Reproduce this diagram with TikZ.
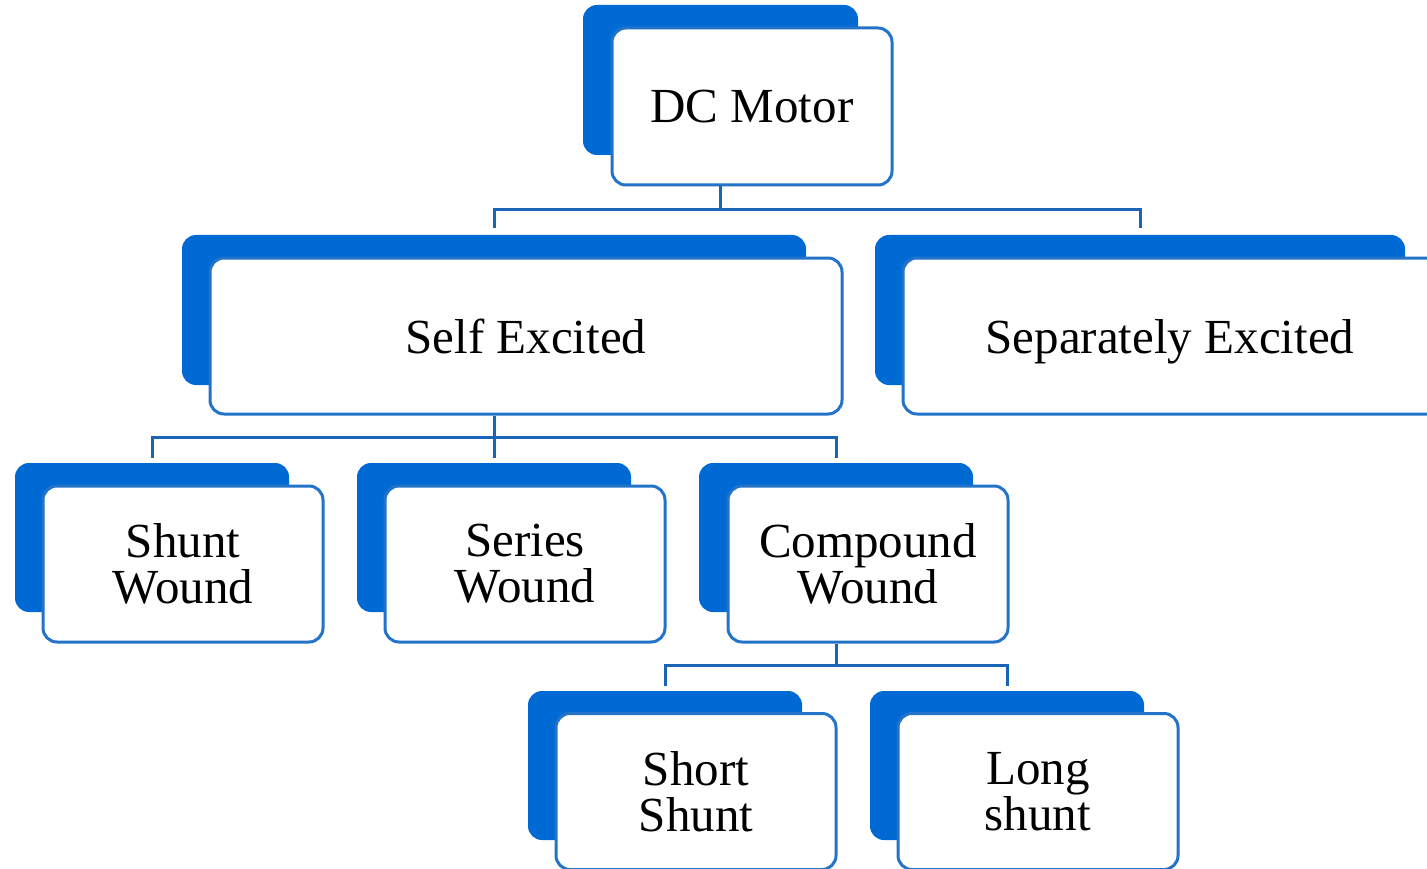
\documentclass[tikz,border=0pt]{standalone}
\usepackage{fontspec}
\setmainfont{Liberation Serif}
\definecolor{backblue}{RGB}{0,106,212}
\definecolor{edgeblue}{RGB}{35,115,200}
\definecolor{lineblue}{RGB}{25,100,185}
\begin{document}
\begin{tikzpicture}[x=1pt,y=-1pt,
  backbox/.style={draw=none,fill=backblue,rounded corners=14pt,inner sep=0pt},
  frontbox/.style={draw=edgeblue,line width=3pt,fill=white,rounded corners=14pt,inner sep=0pt,
    align=center,font=\fontsize{49}{46}\selectfont},
  oneline/.style={text depth=0pt},
  conn/.style={draw=lineblue,line width=3pt}]
\useasboundingbox (0,0) rectangle (1427,869);
\fill[white] (0,0) rectangle (1427,869);
% DC Motor
\node[backbox,minimum width=275pt,minimum height=150pt] (dcb) at (720.5,80) {};
\node[frontbox,oneline,minimum width=280pt,minimum height=157pt] (dc) at (752,106.5) {DC Motor};
% Self Excited
\node[backbox,minimum width=624pt,minimum height=150pt] (seb) at (494,310) {};
\node[frontbox,oneline,minimum width=632pt,minimum height=156pt] (se) at (526,336) {Self Excited};
% Separately Excited
\node[backbox,minimum width=530pt,minimum height=150pt] (spb) at (1140,310) {};
\node[frontbox,oneline,minimum width=540pt,minimum height=156pt] (sp) at (1173,336) {\hspace*{-6pt}Separately Excited};
% Shunt
\node[backbox,minimum width=274pt,minimum height=149pt] (shb) at (152,537.5) {};
\node[frontbox,minimum width=280pt,minimum height=156pt] (sh) at (183,564) {Shunt\\Wound};
% Series
\node[backbox,minimum width=274pt,minimum height=149pt] (srb) at (494,537.5) {};
\node[frontbox,minimum width=280pt,minimum height=156pt] (sr) at (525,564) {Series\\Wound};
% Compound
\node[backbox,minimum width=274pt,minimum height=149pt] (cpb) at (836,537.5) {};
\node[frontbox,minimum width=280pt,minimum height=156pt] (cp) at (868,564) {Compound\\Wound};
% Short Shunt
\node[backbox,minimum width=274pt,minimum height=149pt] (ssb) at (665,765.5) {};
\node[frontbox,minimum width=280pt,minimum height=156pt] (ss) at (696,791.5) {Short\\Shunt};
% Long shunt
\node[backbox,minimum width=274pt,minimum height=149pt] (lsb) at (1007,765.5) {};
\node[frontbox,minimum width=280pt,minimum height=156pt] (ls) at (1038,791.5) {Long\\shunt};
% connectors
\draw[conn] (dcb.center |- dc.south) -- (dcb.center |- 0,210);
\draw[conn] ([yshift=7pt]seb.north) |- (dcb.center |- 0,210) -| ([yshift=7pt]spb.north);
\draw[conn] (seb.center |- se.south) -- ([yshift=5pt]srb.north);
\draw[conn] ([yshift=5pt]shb.north) |- (seb.center |- 0,437) -| ([yshift=5pt]cpb.north);
\draw[conn] (cpb.center |- cp.south) -- (cpb.center |- 0,665);
\draw[conn] ([yshift=5pt]ssb.north) |- (cpb.center |- 0,665) -| ([yshift=5pt]lsb.north);
\end{tikzpicture}
\end{document}
